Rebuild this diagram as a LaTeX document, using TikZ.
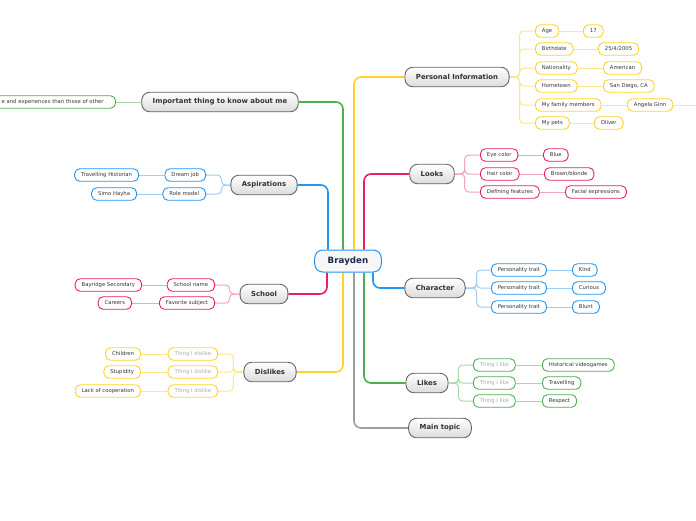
\documentclass[tikz,border=0pt]{standalone}
\usepackage{fontspec}
\setmainfont{DejaVu Sans}
\usetikzlibrary{calc,backgrounds}
\definecolor{cY}{HTML}{FFD42A}
\definecolor{cYl}{HTML}{FFE78A}
\definecolor{cP}{HTML}{E91E63}
\definecolor{cPl}{HTML}{F5A3C0}
\definecolor{cB}{HTML}{2196F3}
\definecolor{cBl}{HTML}{9CCEF6}
\definecolor{cG}{HTML}{4CAF50}
\definecolor{cGl}{HTML}{AAD8AB}
\definecolor{cGr}{HTML}{9E9E9E}
\definecolor{navy}{HTML}{1B2A4E}
\definecolor{txt}{HTML}{333333}
\definecolor{ltxt}{HTML}{AAAAAA}
\tikzset{
  mainbox/.style={draw=black!60, line width=0.9pt, rounded corners=8pt, top color=white, bottom color=black!14,
    minimum height=19.5pt, inner xsep=11pt, inner ysep=0pt, font=\fontsize{6.9}{8}\selectfont\bfseries, text=txt},
  subbox/.style={draw=#1, fill=white, line width=0.9pt, rounded corners=5pt, minimum height=12.5pt,
    inner xsep=6.5pt, inner ysep=0pt, font=\fontsize{5.3}{6}\selectfont, text=txt},
  rootbox/.style={draw=cB, fill=gray!7, line width=1pt, rounded corners=8pt, minimum height=22pt,
    inner xsep=13pt, inner ysep=0pt, font=\fontsize{8.7}{10}\selectfont\bfseries, text=navy},
  mainline/.style={line width=1.6pt, rounded corners=7pt},
  subline/.style={line width=1pt, rounded corners=4pt},
  faint/.style={text=ltxt}
}
\begin{document}
\begin{tikzpicture}[x=1pt,y=-1pt]
\useasboundingbox (0,0) rectangle (696,520);

% root
\node[rootbox] (B) at (348,261) {Brayden};

% main topics
\node[mainbox] (PI) at (457,77) {Personal Information};
\node[mainbox] (LK) at (432,174) {Looks};
\node[mainbox] (CH) at (435,288) {Character};
\node[mainbox] (LI) at (427,383) {Likes};
\node[mainbox] (MT) at (440,428) {Main topic};
\node[mainbox] (IT) at (220,102) {Important thing to know about me};
\node[mainbox] (AS) at (264,185) {Aspirations};
\node[mainbox] (SC) at (264,294) {School};
\node[mainbox] (DL) at (270,372) {Dislikes};

% Personal information
\node[subbox=cY, anchor=west] (age) at (535,31) {Age};
\node[subbox=cY, anchor=west] (birth) at (535,49) {Birthdate};
\node[subbox=cY, anchor=west] (nat) at (535,68) {Nationality};
\node[subbox=cY, anchor=west] (home) at (535,86) {Hometown};
\node[subbox=cY, anchor=west] (fam) at (535,105) {My family members};
\node[subbox=cY, anchor=west] (pets) at (535,123) {My pets};
\node[subbox=cY, anchor=west] (v17) at (583,31) {17};
\node[subbox=cY, anchor=west] (vbd) at (598,49) {25/4/2005};
\node[subbox=cY, anchor=west] (vam) at (603,68) {American};
\node[subbox=cY, anchor=west] (vsd) at (603,86) {San Diego, CA};
\node[subbox=cY, anchor=west] (vag) at (627,105) {Angela Ginn};
\node[subbox=cY, anchor=west] (vol) at (594,123) {Oliver};
\coordinate (edgeA) at (700,105);

% Looks
\node[subbox=cP, anchor=west] (eye) at (480,155) {Eye color};
\node[subbox=cP, anchor=west] (hair) at (480,174) {Hair color};
\node[subbox=cP, anchor=west] (def) at (480,192) {Defining features};
\node[subbox=cP, anchor=west] (vblue) at (543,155) {Blue};
\node[subbox=cP, anchor=west] (vbrown) at (544,174) {Brown/blonde};
\node[subbox=cP, anchor=west] (vface) at (565,192) {Facial expressions};

% Character
\node[subbox=cB, anchor=west] (pt1) at (491,270) {Personality trait};
\node[subbox=cB, anchor=west] (pt2) at (491,288) {Personality trait};
\node[subbox=cB, anchor=west] (pt3) at (491,307) {Personality trait};
\node[subbox=cB, anchor=west] (vkind) at (572,270) {Kind};
\node[subbox=cB, anchor=west] (vcur) at (572,288) {Curious};
\node[subbox=cB, anchor=west] (vblunt) at (572,307) {Blunt};

% Likes
\node[subbox=cG, faint, anchor=west] (tl1) at (473,365) {Thing I like};
\node[subbox=cG, faint, anchor=west] (tl2) at (473,383) {Thing I like};
\node[subbox=cG, faint, anchor=west] (tl3) at (473,401) {Thing I like};
\node[subbox=cG, anchor=west] (vhist) at (542,365) {Historical videogames};
\node[subbox=cG, anchor=west] (vtrav) at (542,383) {Travelling};
\node[subbox=cG, anchor=west] (vresp) at (542,401) {Respect};

% Important thing
\node[subbox=cG, anchor=east, text width=120pt, align=right, inner xsep=12pt] (op) at (116,102) {e and experiences than those of other};

% Aspirations
\node[subbox=cB, anchor=east] (dj) at (206,175) {Dream job};
\node[subbox=cB, anchor=east] (rm) at (206,194) {Role model};
\node[subbox=cB, anchor=east] (vth) at (139,175) {Travelling Historian};
\node[subbox=cB, anchor=east] (vsh) at (137,194) {Simo Hayha};

% School
\node[subbox=cP, anchor=east] (sn) at (215,285) {School name};
\node[subbox=cP, anchor=east] (fs) at (215,303) {Favorite subject};
\node[subbox=cP, anchor=east] (vbs) at (142,285) {Bayridge Secondary};
\node[subbox=cP, anchor=east] (vca) at (132,303) {Careers};

% Dislikes
\node[subbox=cY, faint, anchor=east] (td1) at (218,354) {Thing I dislike};
\node[subbox=cY, faint, anchor=east] (td2) at (218,372) {Thing I dislike};
\node[subbox=cY, faint, anchor=east] (td3) at (218,391) {Thing I dislike};
\node[subbox=cY, anchor=east] (vch) at (141,354) {Children};
\node[subbox=cY, anchor=east] (vst) at (141,372) {Stupidity};
\node[subbox=cY, anchor=east] (vlc) at (141,391) {Lack of cooperation};

\begin{scope}[on background layer]
\fill[white] (0,0) rectangle (696,520);
% main connectors
\draw[mainline, cB] ($(B.north)+(-20,0)$) |- (AS.east);
\draw[mainline, cG] ($(B.north)+(-5,0)$) |- (IT.east);
\draw[mainline, cY] ($(B.north)+(6,0)$) |- (PI.west);
\draw[mainline, cP] ($(B.north)+(16,0)$) |- (LK.west);
\draw[mainline, cP] ($(B.south)+(-21,0)$) |- (SC.east);
\draw[mainline, cY] ($(B.south)+(-5,0)$) |- (DL.east);
\draw[mainline, cGr] ($(B.south)+(6,0)$) |- (MT.west);
\draw[mainline, cG] ($(B.south)+(16,0)$) |- (LI.west);
\draw[mainline, cB] ($(B.south)+(25,0)$) |- (CH.west);

% sub connectors
\foreach \k in {age,birth,nat,home,fam,pets} \draw[subline, cYl] (PI.east) -- ++(10,0) |- (\k.west);
\foreach \a/\b in {age/v17,birth/vbd,nat/vam,home/vsd,fam/vag,pets/vol} \draw[subline, cYl] (\a.east) -- (\b.west);
\draw[subline, cYl] (vag.east) -- (edgeA);

\foreach \k in {eye,hair,def} \draw[subline, cPl] (LK.east) -- ++(10,0) |- (\k.west);
\foreach \a/\b in {eye/vblue,hair/vbrown,def/vface} \draw[subline, cPl] (\a.east) -- (\b.west);

\foreach \k in {pt1,pt2,pt3} \draw[subline, cBl] (CH.east) -- ++(11,0) |- (\k.west);
\foreach \a/\b in {pt1/vkind,pt2/vcur,pt3/vblunt} \draw[subline, cBl] (\a.east) -- (\b.west);

\foreach \k in {tl1,tl2,tl3} \draw[subline, cGl] (LI.east) -- ++(10,0) |- (\k.west);
\foreach \a/\b in {tl1/vhist,tl2/vtrav,tl3/vresp} \draw[subline, cGl] (\a.east) -- (\b.west);

\draw[subline, cGl] (IT.west) -- (op.east);

\foreach \k in {dj,rm} \draw[subline, cBl] (AS.west) -- ++(-9,0) |- (\k.east);
\foreach \a/\b in {dj/vth,rm/vsh} \draw[subline, cBl] (\a.west) -- (\b.east);

\foreach \k in {sn,fs} \draw[subline, cPl] (SC.west) -- ++(-10,0) |- (\k.east);
\foreach \a/\b in {sn/vbs,fs/vca} \draw[subline, cPl] (\a.west) -- (\b.east);

\foreach \k in {td1,td2,td3} \draw[subline, cYl] (DL.west) -- ++(-10,0) |- (\k.east);
\foreach \a/\b in {td1/vch,td2/vst,td3/vlc} \draw[subline, cYl] (\a.west) -- (\b.east);
\end{scope}
\end{tikzpicture}
\end{document}
